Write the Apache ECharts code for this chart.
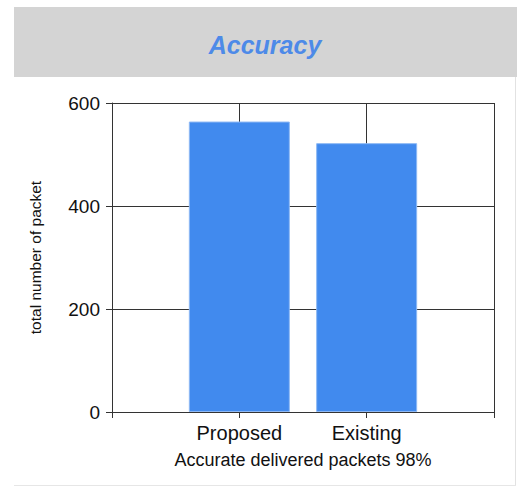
<!DOCTYPE html>
<html>
<head>
<meta charset="utf-8">
<script src="https://cdn.jsdelivr.net/npm/echarts@6/dist/echarts.min.js"></script>
<style>
  html, body { margin: 0; padding: 0; background: #fff; }
  #chart { width: 517px; height: 486px; }
</style>
</head>
<body>
<div id="chart"></div>
<script>
(function() {
  var categories = ['Proposed', 'Existing'];
  var values = [564, 522];
  var yTicks = [0, 200, 400, 600];

  var ink = '#111';
  var rule = '#333';
  var barColor = '#418aee';

  // pad the category axis so the two bars sit on the inner ticks
  var axisData = [''].concat(categories, ['']);
  var seriesData = [null].concat(values, [null]);

  var chart = echarts.init(document.getElementById('chart'), null, { renderer: 'svg' });
  chart.setOption({
    animation: false,
    title: {
      text: 'Accuracy',
      left: 265,
      top: 32,
      padding: 0,
      textAlign: 'center',
      textStyle: {
        color: '#4d8ae8',
        fontFamily: 'Liberation Sans, Arial, sans-serif',
        fontSize: 25,
        fontWeight: 'bold',
        fontStyle: 'italic'
      }
    },
    graphic: [
      { type: 'rect', z: -10, shape: { x: 14, y: 7, width: 503, height: 70 }, style: { fill: '#d4d4d4' } },
      { type: 'line', z: -10, shape: { x1: 515.5, y1: 77, x2: 515.5, y2: 485 }, style: { stroke: '#e2e2e2', lineWidth: 1 } },
      { type: 'line', z: -10, shape: { x1: 14, y1: 485.5, x2: 516, y2: 485.5 }, style: { stroke: '#e6e6e6', lineWidth: 1 } }
    ],
    grid: { left: 112, right: 23, top: 103, bottom: 74 },
    xAxis: {
      type: 'category',
      data: axisData,
      boundaryGap: false,
      name: 'Accurate delivered packets 98%',
      nameLocation: 'middle',
      nameGap: 39,
      nameTextStyle: { color: ink, fontFamily: 'Liberation Sans, Arial, sans-serif', fontSize: 18 },
      axisLine: { lineStyle: { color: rule, width: 1 } },
      axisTick: { show: true, interval: 0, length: 6, lineStyle: { color: rule } },
      axisLabel: { interval: 0, margin: 11, color: ink, fontFamily: 'Liberation Sans, Arial, sans-serif', fontSize: 20 },
      splitLine: { show: true, interval: 0, lineStyle: { color: rule, width: 1 } }
    },
    yAxis: {
      type: 'value',
      min: yTicks[0],
      max: yTicks[yTicks.length - 1],
      interval: 200,
      name: 'total number of packet',
      nameLocation: 'middle',
      nameGap: 69,
      nameTextStyle: { color: ink, fontFamily: 'Liberation Sans, Arial, sans-serif', fontSize: 15.5 },
      axisLine: { show: true, lineStyle: { color: rule, width: 1 } },
      axisTick: { show: true, length: 6, lineStyle: { color: rule } },
      axisLabel: { margin: 12, color: ink, fontFamily: 'Liberation Sans, Arial, sans-serif', fontSize: 19 },
      splitLine: { show: true, lineStyle: { color: rule, width: 1 } }
    },
    series: [{
      type: 'bar',
      data: seriesData,
      barWidth: 101,
      itemStyle: { color: barColor, borderColor: '#8db8f4', borderWidth: 1 }
    }]
  });
  window.addEventListener('resize', function() { chart.resize(); });
})();
</script>
</body>
</html>
